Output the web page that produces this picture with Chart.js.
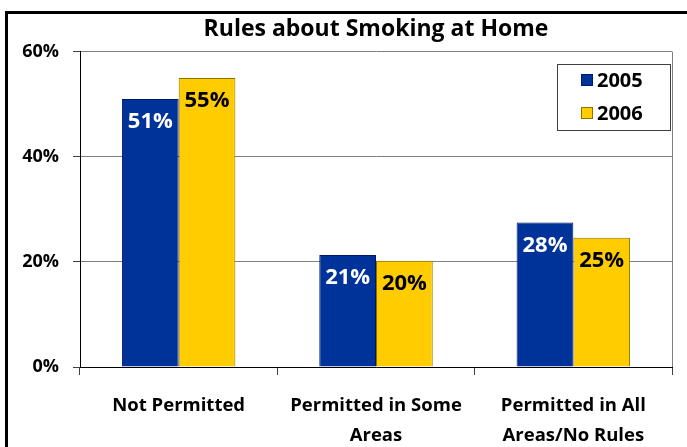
<!DOCTYPE html>
<html>
<head>
<meta charset="utf-8">
<script src="https://cdn.jsdelivr.net/npm/chart.js@4"></script>
<style>
  html, body { margin: 0; padding: 0; background: #fff; }
  #wrap { width: 687px; height: 447px; }
</style>
</head>
<body>
<div id="wrap"><canvas id="chart1" width="687" height="447"></canvas></div>
<script>
var categories = [["Not Permitted"], ["Permitted in Some", "Areas"], ["Permitted in All", "Areas/No Rules"]];
var years = ["2005", "2006"];
var values2005 = [51, 21.3, 27.5];
var values2006 = [55, 20.2, 24.6];
var yTicks = [0, 20, 40, 60];

var FONT = "'Open Sans', sans-serif";

// outer frame, plot frame, in-plot legend and value labels
var decorations = {
  id: "decorations",
  beforeDraw: function (chart) {
    var ctx = chart.ctx;
    ctx.save();
    ctx.strokeStyle = "#000";
    ctx.lineWidth = 3;
    ctx.beginPath();
    ctx.moveTo(6.5, 460);
    ctx.lineTo(6.5, 12.5);
    ctx.lineTo(700, 12.5);
    ctx.stroke();
    ctx.restore();
  },
  afterDatasetsDraw: function (chart) {
    var ctx = chart.ctx;
    var area = chart.chartArea;
    ctx.save();
    // right border of plot
    ctx.strokeStyle = "#808080";
    ctx.lineWidth = 1;
    ctx.beginPath();
    ctx.moveTo(area.right + 0.5, area.top);
    ctx.lineTo(area.right + 0.5, area.bottom);
    ctx.stroke();

    // value labels
    ctx.font = "bold 22px " + FONT;
    ctx.textAlign = "center";
    ctx.textBaseline = "middle";
    chart.data.datasets.forEach(function (ds, i) {
      var meta = chart.getDatasetMeta(i);
      meta.data.forEach(function (bar, j) {
        ctx.fillStyle = ds.labelColor;
        ctx.fillText(Math.round(ds.data[j]) + "%", bar.x, bar.y + 23);
      });
    });

    // legend box
    var bx = 557.5, by = 64.5, bw = 113, bh = 66;
    ctx.fillStyle = "#fff";
    ctx.fillRect(bx, by, bw, bh);
    ctx.strokeStyle = "#404040";
    ctx.strokeRect(bx, by, bw, bh);
    ctx.font = "bold 20px " + FONT;
    ctx.textAlign = "left";
    chart.data.datasets.forEach(function (ds, i) {
      var cy = 80 + i * 33;
      ctx.fillStyle = ds.backgroundColor;
      ctx.fillRect(581, cy - 6, 12, 12);
      ctx.strokeStyle = ds.borderColor;
      ctx.strokeRect(581.5, cy - 5.5, 11, 11);
      ctx.fillStyle = "#000";
      ctx.fillText(ds.label, 597, cy + 1);
    });
    ctx.restore();
  }
};

function drawGraph() {
  var ctx = document.getElementById("chart1").getContext("2d");
  var myChart = new Chart(ctx, {
    type: "bar",
    data: {
      labels: categories,
      datasets: [
        {
          label: years[0],
          data: values2005,
          backgroundColor: "#003399",
          borderColor: "#001a66",
          borderWidth: 1,
          labelColor: "#fff",
        },
        {
          label: years[1],
          data: values2006,
          backgroundColor: "#FFCC00",
          borderColor: "#8c7300",
          borderWidth: 1,
          labelColor: "#000",
        },
      ],
    },
    options: {
      responsive: false,
      animation: false,
      layout: { padding: { left: 0, right: 15, top: 0, bottom: 0 } },
      categoryPercentage: 0.575,
      barPercentage: 1,
      plugins: {
        legend: { display: false },
        tooltip: { enabled: false },
        title: {
          display: true,
          fullSize: false,
          text: "Rules about Smoking at Home",
          color: "#000",
          font: { family: FONT, size: 23, weight: "bold", lineHeight: 1.2 },
          padding: { top: 16, bottom: 8 },
        },
      },
      scales: {
        x: {
          grid: {
            drawOnChartArea: false,
            drawTicks: true,
            tickLength: 8,
            color: "#404040",
          },
          border: { color: "#000", width: 1 },
          ticks: {
            color: "#000",
            padding: 15,
            maxRotation: 0,
            font: { family: FONT, size: 18.5, weight: "bold", lineHeight: 1.65 },
          },
          afterFit: function (scale) { scale.height = 80; },
        },
        y: {
          min: 0,
          max: 60,
          afterBuildTicks: function (scale) {
            scale.ticks = yTicks.map(function (v) { return { value: v }; });
          },
          grid: {
            color: "#808080",
            tickLength: 7,
            tickColor: "#404040",
          },
          border: { color: "#000", width: 1 },
          ticks: {
            color: "#000",
            padding: 14,
            font: { family: FONT, size: 18, weight: "bold" },
            callback: function (v) { return v + "%"; },
          },
          afterFit: function (scale) { scale.width = 80; },
        },
      },
    },
    plugins: [decorations],
  });
}
window.onload = drawGraph;
</script>
</body>
</html>
